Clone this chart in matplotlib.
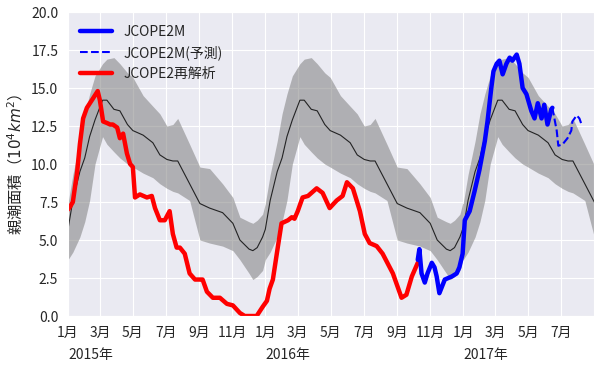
import numpy as np
import pandas as pd
import matplotlib
matplotlib.use('Agg')
import matplotlib.pyplot as plt
import matplotlib.dates as mdates
import matplotlib.transforms as mtransforms
import seaborn as sns

sns.set_style('darkgrid')
plt.rcParams['font.family'] = ['Noto Sans CJK JP', 'DejaVu Sans']

# climatology (same every year), by day of year
clim_doy = [0, 9, 22, 31, 40, 50, 64, 72, 85, 96, 110, 120, 139, 157, 170, 183,
            194, 203, 225, 244, 262, 286, 305, 318, 335, 342, 350, 360, 365]
clim_mean = [5.7, 7.6, 9.5, 10.4, 11.8, 12.9, 14.2, 14.2, 13.6, 13.5, 12.6, 12.2, 11.9, 11.4, 10.6, 10.3,
             10.2, 10.2, 8.7, 7.4, 7.1, 6.8, 6.1, 5.0, 4.4, 4.3, 4.5, 5.2, 5.7]
clim_upper = [7.4, 9.3, 11.5, 13.3, 14.6, 15.8, 16.6, 16.9, 17.0, 16.6, 16.0, 15.7, 14.5, 13.8, 13.3, 12.5,
              12.6, 13.0, 11.3, 9.8, 9.7, 8.7, 7.8, 6.5, 6.2, 6.1, 6.3, 6.7, 7.4]
clim_lower = [3.7, 4.2, 5.2, 6.2, 7.6, 10.0, 11.8, 11.3, 10.8, 10.4, 10.0, 9.8, 9.4, 9.1, 8.7, 8.4,
              8.2, 8.1, 7.6, 5.0, 4.8, 4.6, 4.3, 3.7, 2.8, 2.4, 2.6, 3.0, 3.7]
clim_years = [2015, 2016, 2017]

# JCOPE2 reanalysis
rea_dates = ['2015-01-01', '2015-01-05', '2015-01-10', '2015-01-18', '2015-01-23', '2015-01-29',
             '2015-02-05', '2015-02-16', '2015-02-25', '2015-03-01', '2015-03-07', '2015-03-14',
             '2015-03-20', '2015-03-25', '2015-04-02', '2015-04-07', '2015-04-13', '2015-04-20',
             '2015-04-26', '2015-05-01', '2015-05-05', '2015-05-14', '2015-05-27', '2015-06-05',
             '2015-06-11', '2015-06-20', '2015-06-29', '2015-07-08', '2015-07-14', '2015-07-21',
             '2015-07-27', '2015-08-05', '2015-08-14', '2015-08-24', '2015-09-02', '2015-09-07',
             '2015-09-15', '2015-09-26', '2015-10-09', '2015-10-22', '2015-11-02', '2015-11-15',
             '2015-11-24', '2015-12-16', '2015-12-27', '2016-01-04', '2016-01-09', '2016-01-15',
             '2016-01-24', '2016-01-31', '2016-02-12', '2016-02-19', '2016-02-24', '2016-03-01',
             '2016-03-10', '2016-03-20', '2016-04-05', '2016-04-16', '2016-04-29', '2016-05-12',
             '2016-05-23', '2016-05-31', '2016-06-11', '2016-06-24', '2016-07-03', '2016-07-12',
             '2016-07-25', '2016-08-05', '2016-08-24', '2016-09-09', '2016-09-18', '2016-09-28',
             '2016-10-09']
rea_vals = [7.0, 7.2, 7.5, 9.5, 11.3, 13.0,
            13.7, 14.3, 14.8, 14.2, 12.8, 12.7,
            12.6, 12.6, 12.4, 11.7, 12.0, 10.7,
            10.0, 9.8, 7.8, 8.0, 7.8, 7.9,
            7.1, 6.3, 6.3, 6.9, 5.4, 4.5,
            4.5, 4.1, 2.8, 2.4, 2.4, 2.4,
            1.6, 1.2, 1.2, 0.8, 0.7, 0.2,
            0.0, 0.0, 0.6, 1.0, 1.8, 2.4,
            4.5, 6.1, 6.3, 6.5, 6.4, 6.9,
            7.8, 7.9, 8.4, 8.1, 7.1, 7.6,
            7.9, 8.8, 8.4, 6.9, 5.4, 4.8,
            4.6, 4.1, 2.8, 1.2, 1.4, 2.6,
            3.5]

# JCOPE2M
m_dates = ['2016-10-09', '2016-10-12', '2016-10-16', '2016-10-22', '2016-10-27', '2016-11-04',
           '2016-11-09', '2016-11-13', '2016-11-18', '2016-11-28', '2016-12-11', '2016-12-20',
           '2016-12-25', '2016-12-31', '2017-01-04', '2017-01-13', '2017-01-22', '2017-01-31',
           '2017-02-10', '2017-02-15', '2017-02-22', '2017-02-26', '2017-03-04', '2017-03-09',
           '2017-03-15', '2017-03-22', '2017-03-28', '2017-04-02', '2017-04-10', '2017-04-15',
           '2017-04-21', '2017-04-28', '2017-05-07', '2017-05-13', '2017-05-19', '2017-05-26',
           '2017-05-31', '2017-06-06', '2017-06-13', '2017-06-15']
m_vals = [3.7, 4.4, 2.8, 2.2, 2.8, 3.5,
          3.2, 2.6, 1.5, 2.4, 2.6, 2.8,
          3.2, 4.1, 6.3, 6.9, 8.2, 9.6,
          11.5, 12.8, 15.0, 16.1, 16.6, 16.8,
          15.9, 16.6, 17.0, 16.8, 17.2, 16.6,
          15.0, 14.6, 13.5, 13.0, 14.0, 13.0,
          13.9, 12.6, 13.6, 13.7]

# JCOPE2M forecast
f_dates = ['2017-06-15', '2017-06-23', '2017-06-26', '2017-07-04', '2017-07-13', '2017-07-20',
           '2017-07-22', '2017-07-30', '2017-08-04', '2017-08-08']
f_vals = [13.7, 12.2, 11.2, 11.3, 11.7, 12.2, 12.8, 13.2, 13.0, 12.6]

# build climatology series over the years
cd, cm, cu, cl = [], [], [], []
for yr in clim_years:
    base = pd.Timestamp(yr, 1, 1)
    cd += [base + pd.Timedelta(days=d) for d in clim_doy]
    cm += clim_mean
    cu += clim_upper
    cl += clim_lower

fig = plt.figure(figsize=(6, 3.69), dpi=100)
ax = fig.add_axes([0.1133, 0.1436, 0.8767, 0.8238])

ax.fill_between(cd, cl, cu, color='gray', alpha=0.55, lw=0)
ax.plot(cd, cm, color='k', lw=0.8, alpha=0.8)
l3, = ax.plot(pd.to_datetime(rea_dates), rea_vals, color='red', lw=3.2)
l1, = ax.plot(pd.to_datetime(m_dates), m_vals, color='blue', lw=3.2)
l2, = ax.plot(pd.to_datetime(f_dates), f_vals, color='blue', lw=1.5, ls='--')

ax.set_xlim(pd.Timestamp('2015-01-01'), pd.Timestamp('2017-08-31'))
ax.set_ylim(0, 20)
ax.set_yticks(np.arange(0, 20.1, 2.5))
ax.yaxis.set_major_formatter(matplotlib.ticker.FormatStrFormatter('%.1f'))
ax.xaxis.set_major_locator(mdates.MonthLocator(bymonth=[1, 3, 5, 7, 9, 11]))
ax.xaxis.set_major_formatter(matplotlib.ticker.FuncFormatter(
    lambda v, p: '%d月' % mdates.num2date(v).month))
ax.tick_params(labelsize=10)
ax.set_ylabel('親潮面積（$10^4km^2$）', fontsize=11)

trans = mtransforms.blended_transform_factory(ax.transData, ax.transAxes)
for yr in clim_years:
    ax.text(pd.Timestamp(yr, 1, 1), -0.128, '%d年' % yr, transform=trans,
            ha='left', va='center', fontsize=10, color='.15')

ax.legend([l1, l2, l3], ['JCOPE2M', 'JCOPE2M(予測)', 'JCOPE2再解析'],
          loc='upper left', frameon=False, fontsize=10, handlelength=2.3)

fig.savefig('out.png', dpi=100)
